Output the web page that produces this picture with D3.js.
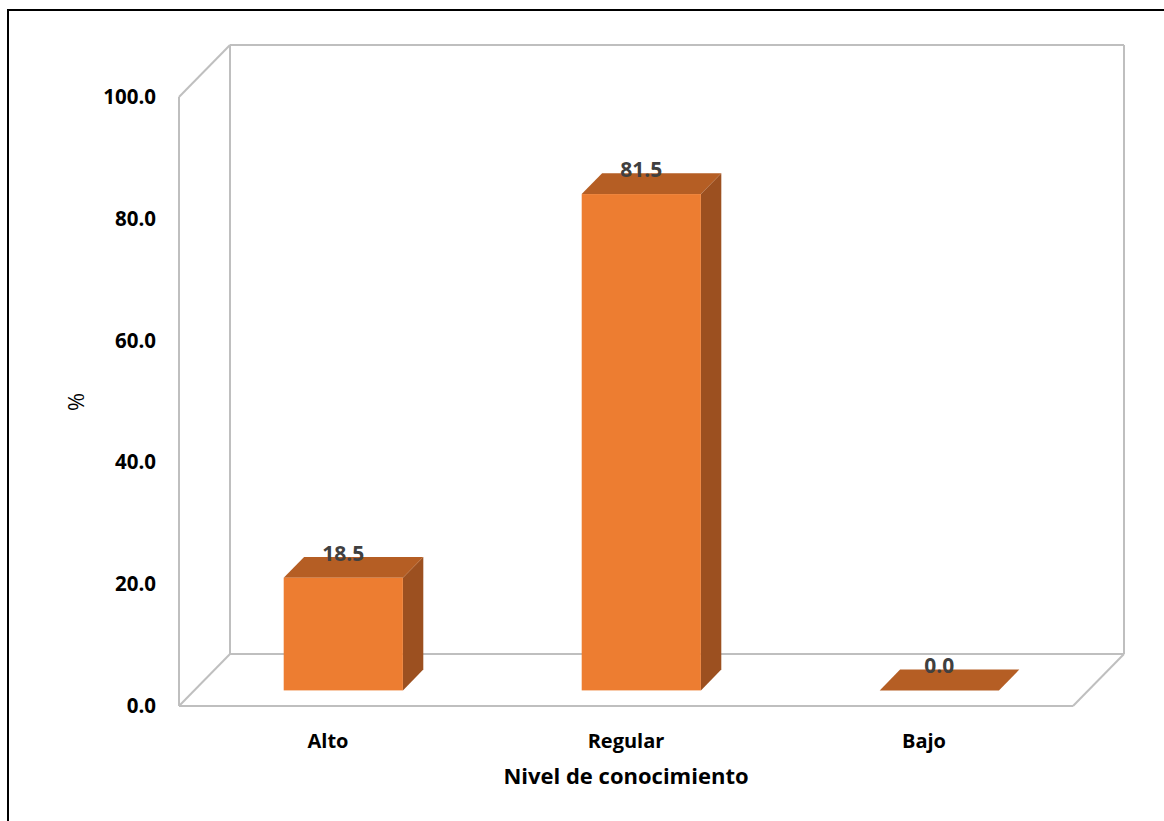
<!DOCTYPE html>
<html>
<head>
<meta charset="utf-8">
<script src="https://cdn.jsdelivr.net/npm/d3@7"></script>
<style>
  body { margin: 0; background: #fff; }
  svg { display: block; font-family: "Open Sans", sans-serif; }
  .tick text { font-weight: bold; fill: #000; }
</style>
</head>
<body>
<script>
// data
const categories = ["Alto", "Regular", "Bajo"];
const values = [18.5, 81.5, 0.0];
const yTicks = [0, 20, 40, 60, 80, 100];

const width = 1164;
const height = 821;

// front plane of the 3d box + depth vector
const front = { left: 179, right: 1073, top: 97, bottom: 706 };
const depth = { dx: 51, dy: -52 };
const f0 = 0.3; // bar front, fraction of depth
const f1 = 0.7; // bar back

const svg = d3
  .select("body")
  .append("svg")
  .attr("width", width)
  .attr("height", height);

// outer black frame (runs past right and bottom edges)
svg
  .append("rect")
  .attr("x", 8)
  .attr("y", 10)
  .attr("width", 1200)
  .attr("height", 900)
  .attr("fill", "white")
  .attr("stroke", "#000")
  .attr("stroke-width", 2);

const x = d3
  .scaleBand()
  .domain(categories)
  .range([front.left, front.right])
  .paddingInner(0.6)
  .paddingOuter(0.3);

const y = d3.scaleLinear().domain([0, 100]).range([front.bottom, front.top]);

// ! walls and floor
const gray = "#BFBFBF";
const bx = (px) => px + depth.dx;
const by = (py) => py + depth.dy;
const walls = [
  // back wall
  [[bx(front.left), by(y(100))], [bx(front.right), by(y(100))]],
  [[bx(front.right), by(y(100))], [bx(front.right), by(y(0))]],
  [[bx(front.left), by(y(100))], [bx(front.left), by(y(0))]],
  [[bx(front.left), by(y(0))], [bx(front.right), by(y(0))]],
  // left wall
  [[front.left, y(100)], [front.left, y(0)]],
  [[front.left, y(100)], [bx(front.left), by(y(100))]],
  [[front.left, y(0)], [bx(front.left), by(y(0))]],
  // floor
  [[front.left, y(0)], [front.right, y(0)]],
  [[front.right, y(0)], [bx(front.right), by(y(0))]],
];
svg
  .append("g")
  .selectAll("line")
  .data(walls)
  .enter()
  .append("line")
  .attr("x1", (d) => d[0][0])
  .attr("y1", (d) => d[0][1])
  .attr("x2", (d) => d[1][0])
  .attr("y2", (d) => d[1][1])
  .attr("stroke", gray)
  .attr("stroke-width", 2);

// ! bars
const data = categories.map((c, i) => ({ cat: c, value: values[i] }));
const bw = x.bandwidth();
const ox0 = f0 * depth.dx, oy0 = f0 * depth.dy;
const odx = (f1 - f0) * depth.dx, ody = (f1 - f0) * depth.dy;

const bars = svg.append("g").selectAll("g").data(data).enter().append("g");

// side face
bars
  .filter((d) => d.value > 0)
  .append("path")
  .attr("fill", "#9C5020")
  .attr("d", (d) => {
    const xr = x(d.cat) + bw + ox0;
    const yt = y(d.value) + oy0;
    const yb = y(0) + oy0;
    return `M${xr},${yt}L${xr + odx},${yt + ody}L${xr + odx},${yb + ody}L${xr},${yb}Z`;
  });

// top face
bars
  .append("path")
  .attr("fill", "#B55E24")
  .attr("d", (d) => {
    const xl = x(d.cat) + ox0;
    const yt = y(d.value) + oy0;
    return `M${xl},${yt}L${xl + bw},${yt}L${xl + bw + odx},${yt + ody}L${xl + odx},${yt + ody}Z`;
  });

// front face
bars
  .filter((d) => d.value > 0)
  .append("rect")
  .attr("fill", "#ED7D31")
  .attr("x", (d) => x(d.cat) + ox0)
  .attr("y", (d) => y(d.value) + oy0)
  .attr("width", bw)
  .attr("height", (d) => y(0) - y(d.value));

// value labels
bars
  .append("text")
  .attr("x", (d) => x(d.cat) + ox0 + bw / 2)
  .attr("y", (d) => y(d.value) + oy0 - 17)
  .attr("text-anchor", "middle")
  .attr("font-size", 21)
  .attr("font-weight", "bold")
  .attr("fill", "#404040")
  .text((d) => d.value.toFixed(1));

// ! axes
const yAxisG = svg
  .append("g")
  .attr("transform", `translate(${front.left}, 0)`)
  .call(
    d3
      .axisLeft(y)
      .tickValues(yTicks)
      .tickSize(0)
      .tickPadding(23)
      .tickFormat(d3.format(".1f"))
  );
yAxisG.select(".domain").remove();
yAxisG.selectAll("text").attr("font-size", 20.5).attr("font-family", "Open Sans");

const xAxisG = svg
  .append("g")
  .attr("transform", `translate(0, ${front.bottom})`)
  .call(d3.axisBottom(x).tickSize(0).tickPadding(28));
xAxisG.select(".domain").remove();
xAxisG.selectAll("text").attr("font-size", 20).attr("font-family", "Open Sans");

// axis titles
svg
  .append("text")
  .attr("x", (front.left + front.right) / 2)
  .attr("y", 784)
  .attr("text-anchor", "middle")
  .attr("font-size", 22)
  .attr("font-weight", "bold")
  .text("Nivel de conocimiento");

svg
  .append("text")
  .attr("transform", `translate(84, 402) rotate(-90)`)
  .attr("text-anchor", "middle")
  .attr("font-size", 22)
  .text("%");
</script>
</body>
</html>
